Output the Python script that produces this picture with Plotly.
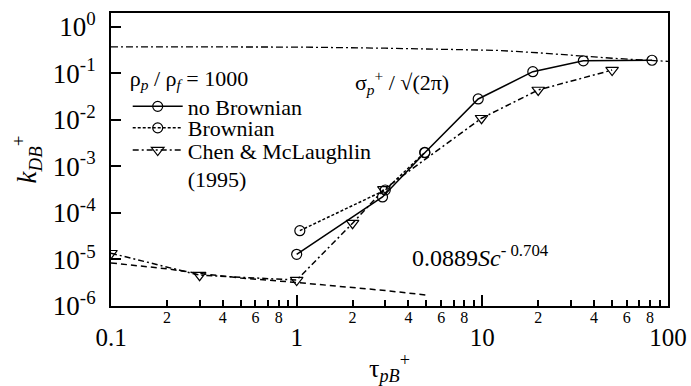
import plotly.graph_objects as go

# Deposition rate k_DB+ versus particle relaxation time tau_pB+
tau_no_brownian = [1.0, 2.9, 4.9, 9.5, 18.7, 35.0, 82.0]
k_no_brownian = [1.29e-5, 2.2e-4, 1.96e-3, 0.028, 0.108, 0.185, 0.19]

tau_brownian = [1.04, 3.0, 4.9]
k_brownian = [4.15e-5, 3.1e-4, 2.0e-3]

tau_chen = [0.1, 0.3, 1.0, 2.0, 2.95, 9.9, 20.0, 50.0]
k_chen = [1.36e-5, 4.6e-6, 3.6e-6, 6.0e-5, 3.2e-4, 0.0108, 0.0437, 0.117]

# Upper limit sigma_p+ / sqrt(2 pi)
tau_sigma = [0.1, 1.0, 3.0, 7.0, 12.0, 20.0, 32.0, 50.0, 100.0]
k_sigma = [0.37, 0.365, 0.345, 0.33, 0.31, 0.275, 0.24, 0.21, 0.18]

# Diffusion correlation 0.0889 Sc^-0.704
tau_sc = [0.1, 0.2, 0.3, 0.5, 1.0, 2.0, 3.0, 5.0]
k_sc = [8.4e-6, 6.3e-6, 5.0e-6, 4.0e-6, 3.2e-6, 2.5e-6, 2.15e-6, 1.72e-6]

x_major = [0.1, 1, 10, 100]
x_major_text = ["0.1", "1", "10", "100"]
x_minor = [m * d for d in (0.1, 1, 10) for m in range(2, 10)]
x_minor_labeled = [m * d for d in (0.1, 1, 10) for m in (2, 4, 6, 8)]
x_minor_text = [str(m) for d in (0.1, 1, 10) for m in (2, 4, 6, 8)]
y_major = [1e-6, 1e-5, 1e-4, 1e-3, 1e-2, 1e-1, 1e0]
y_major_text = ["10<sup>-6</sup>", "10<sup>-5</sup>", "10<sup>-4</sup>", "10<sup>-3</sup>",
                "10<sup>-2</sup>", "10<sup>-1</sup>", "10<sup>0</sup>"]

FONT = "Liberation Serif"
BLACK = "black"
LEG_FONT = dict(family=FONT, size=22, color=BLACK)

fig = go.Figure()

fig.add_trace(go.Scatter(
    x=tau_sigma, y=k_sigma, mode="lines", showlegend=False, hoverinfo="skip",
    line=dict(color=BLACK, width=1.3, dash="7px,3px,2px,3px")))
fig.add_trace(go.Scatter(
    x=tau_sc, y=k_sc, mode="lines", showlegend=False, hoverinfo="skip",
    line=dict(color=BLACK, width=1.5, dash="6px,4px")))

fig.add_trace(go.Scatter(
    x=tau_no_brownian, y=k_no_brownian, mode="lines+markers", name="no Brownian",
    legend="legend",
    line=dict(color=BLACK, width=1.5),
    marker=dict(symbol="circle-open", size=10, color=BLACK, line=dict(width=1.2))))
fig.add_trace(go.Scatter(
    x=tau_brownian, y=k_brownian, mode="lines+markers", name="Brownian",
    legend="legend2",
    line=dict(color=BLACK, width=1.5, dash="3px,2px"),
    marker=dict(symbol="circle-open", size=10, color=BLACK, line=dict(width=1.2))))
fig.add_trace(go.Scatter(
    x=tau_chen, y=k_chen, mode="lines+markers", name="Chen & McLaughlin<br>(1995)",
    legend="legend3",
    line=dict(color=BLACK, width=1.5, dash="6px,3px,2px,3px"),
    marker=dict(symbol="triangle-down-open", size=11, color=BLACK, line=dict(width=1.2))))

# carrier for the second (label-only) x axis
fig.add_trace(go.Scatter(x=[], y=[], xaxis="x2", showlegend=False, hoverinfo="skip"))

fig.add_annotation(
    x=0.5224, y=0.7645, xref="paper", yref="paper", showarrow=False,
    xanchor="center", yanchor="middle",
    text="σ<sub><i>p</i></sub><sup>+</sup> / √(2π)",
    font=dict(family=FONT, size=22, color=BLACK))
fig.add_annotation(
    x=3.06, y=0.345, xref="x", yref="y", text=" ", showarrow=True,
    arrowhead=0, arrowwidth=1, arrowcolor=BLACK, ax=16, ay=15)

fig.add_annotation(
    x=0.537, y=0.17, xref="paper", yref="paper", showarrow=False,
    xanchor="left", yanchor="middle",
    text="0.0889<i>Sc</i><sup>- 0.704</sup>",
    font=dict(family=FONT, size=24, color=BLACK))
fig.add_annotation(
    x=3.1, y=2.15e-6, xref="x", yref="y", text=" ", showarrow=True,
    arrowhead=0, arrowwidth=1, arrowcolor=BLACK, ax=21, ay=-22)

legend_common = dict(xanchor="left", yanchor="top", bgcolor="rgba(0,0,0,0)",
                     borderwidth=0, font=LEG_FONT, itemwidth=50, valign="top")

fig.update_layout(
    width=691, height=386,
    margin=dict(l=111, r=23, t=13, b=80, autoexpand=False),
    paper_bgcolor="white", plot_bgcolor="white",
    font=dict(family=FONT, color=BLACK),
    showlegend=True,
    legend=dict(
        x=0.03, y=0.85,
        title=dict(text="ρ<sub><i>p</i></sub> / ρ<sub><i>f</i></sub> = 1000", font=LEG_FONT),
        **legend_common),
    legend2=dict(x=0.03, y=0.679, **legend_common),
    legend3=dict(x=0.03, y=0.603, **legend_common),
    xaxis=dict(
        type="log", range=[-1, 2], automargin=False,
        tickmode="array", tickvals=x_major, ticktext=x_major_text,
        tickfont=dict(family=FONT, size=25, color=BLACK),
        ticks="inside", ticklen=11, tickwidth=1.5, tickcolor=BLACK,
        ticklabelstandoff=8, ticklabeloverflow="allow",
        minor=dict(tickmode="array", tickvals=x_minor, ticks="inside",
                   ticklen=6, tickwidth=1.5, tickcolor=BLACK),
        showline=True, linewidth=2, linecolor=BLACK, mirror=True,
        showgrid=False, zeroline=False,
        title=dict(text="τ<sub><i>pB</i></sub><sup>+</sup>",
                   font=dict(family=FONT, size=26, color=BLACK), standoff=12),
    ),
    xaxis2=dict(
        type="log", range=[-1, 2], overlaying="x", anchor="y", side="bottom",
        automargin=False,
        tickmode="array", tickvals=x_minor_labeled, ticktext=x_minor_text,
        tickfont=dict(family=FONT, size=16, color=BLACK),
        ticks="", showline=False, showgrid=False, zeroline=False,
        ticklabelstandoff=0,
    ),
    yaxis=dict(
        type="log", range=[-6, 0.294], automargin=False,
        tickmode="array", tickvals=y_major, ticktext=y_major_text,
        tickfont=dict(family=FONT, size=27, color=BLACK),
        ticks="inside", ticklen=10, tickwidth=1.5, tickcolor=BLACK,
        ticklabelstandoff=8,
        showline=True, linewidth=2, linecolor=BLACK, mirror=True,
        showgrid=False, zeroline=False,
        title=dict(text="<i>k</i><sub><i>DB</i></sub><sup>+</sup>",
                   font=dict(family=FONT, size=27, color=BLACK), standoff=8),
    ),
)

fig.write_html("out.html")
